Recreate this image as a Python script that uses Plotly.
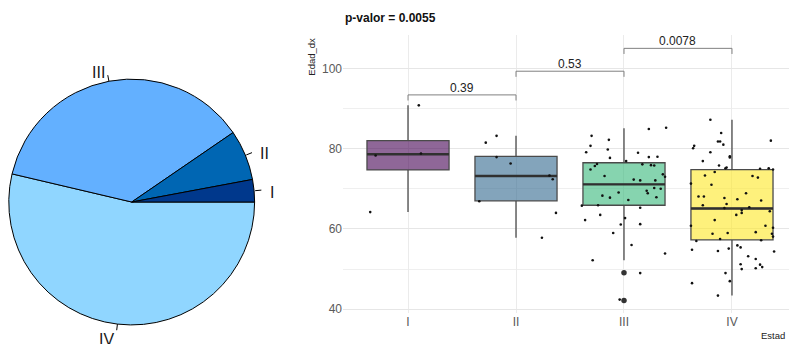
import math
import plotly.graph_objects as go

# ---------------- data ----------------
stages = ["I", "II", "III", "IV"]
pie_counts = [4, 9, 50, 73]
pie_colors = ["#00388C", "#0066B3", "#63B0FF", "#90D6FF"]

ages_I = [90.8, 78.3, 78.8, 64.2]
jit_I = [0.10, -0.30, 0.12, -0.35]

ages_II = [83.2, 81.5, 77.9, 76.3, 73.3, 72.4, 66.9, 64.0, 57.8]
jit_II = [-0.18, -0.28, -0.18, -0.05, 0.31, 0.34, -0.34, 0.37, 0.24]

ages_III = [84.9, 85.2, 83.2, 82.2, 80.7, 79.8, 79.1, 79.0, 77.7, 77.9, 78.0, 76.9,
            76.2, 75.7, 76.1, 75.9, 75.8, 74.8, 73.6, 73.0, 73.2, 72.3, 72.1, 72.1,
            70.2, 70.0, 69.5, 68.9, 69.1, 68.3, 67.8, 67.9, 67.2, 65.8, 65.9, 65.3,
            63.5, 62.7, 62.2, 61.1, 61.2, 59.0, 56.0, 53.9, 52.2, 49.0, 42.4]
jit_III = [0.23, 0.39, -0.30, -0.14, -0.31, -0.15, -0.35, 0.13, -0.13, 0.23, 0.31, 0.02,
           -0.25, -0.27, 0.17, 0.25, 0.28, -0.31, 0.36, 0.38, -0.18, 0.09, 0.15, 0.29,
           0.28, 0.34, 0.21, 0.22, -0.05, -0.20, -0.13, 0.30, 0.04, -0.39, -0.24, 0.15,
           -0.22, 0.01, -0.36, -0.03, 0.15, -0.10, 0.07, 0.38, -0.29, 0.15, -0.04]

ages_IV = [87.2, 83.9, 81.8, 81.8, 81.0, 82.0, 80.7, 80.1, 79.1, 78.1, 77.8, 76.9,
           75.8, 75.3, 75.1, 75.0, 75.1, 74.8, 74.2, 73.3, 73.2, 72.8, 71.0, 71.3,
           68.9, 68.1, 68.1, 67.7, 67.4, 67.1, 65.9, 66.2, 65.2, 65.4, 64.4, 64.7,
           64.0, 63.5, 62.2, 60.8, 60.8, 60.3, 58.8, 59.0, 59.2, 58.8, 58.1, 57.5,
           57.2, 57.0, 54.8, 54.5, 55.9, 55.4, 55.1, 54.4, 53.2, 52.5, 51.1, 50.5,
           51.2, 50.0, 50.2, 49.0, 47.0, 46.5, 43.4]
jit_IV = [-0.20, -0.10, -0.13, -0.11, -0.08, 0.36, -0.35, -0.36, -0.20, -0.02, -0.02, -0.27,
          -0.12, -0.05, -0.06, 0.26, 0.34, 0.38, -0.16, -0.25, 0.19, 0.24, -0.19, -0.38,
          0.13, -0.31, -0.26, -0.07, 0.05, 0.27, -0.27, -0.05, -0.07, 0.16, 0.35, 0.09,
          0.09, 0.04, -0.16, -0.38, 0.31, 0.38, -0.18, -0.04, 0.22, 0.37, 0.38, -0.11,
          0.27, -0.33, -0.37, -0.13, 0.05, 0.08, -0.03, 0.39, 0.15, 0.22, 0.26, 0.28,
          0.08, 0.09, 0.22, -0.06, -0.02, -0.37, -0.13]

box_q1 = [74.7, 67.0, 65.9, 57.3]
box_median = [78.6, 73.2, 71.1, 65.1]
box_q3 = [82.0, 78.1, 76.5, 74.8]
box_low = [64.2, 57.8, 52.2, 43.4]
box_high = [90.8, 83.2, 85.1, 87.2]
outliers_III = [49.1, 42.2]

box_fill = ["rgba(68,1,84,0.6)", "rgba(49,104,142,0.6)",
            "rgba(53,183,121,0.6)", "rgba(253,231,37,0.6)"]

comp_pairs = [(0, 1), (1, 2), (2, 3)]
comp_labels = ["0.39", "0.53", "0.0078"]
comp_y = [93.4, 99.3, 105.0]
tip_len = 1.4

title_text = "p-valor = 0.0055"
y_title = "Edad_dx"
x_title = "Estad"

FONT = "Liberation Sans, Arial, sans-serif"
W, H = 789, 344

fig = go.Figure()

# ---------------- pie ----------------
pie_cx, pie_cy, pie_r = 131.7, 203.8, 124.0
fig.add_trace(go.Pie(
    labels=stages[::-1], values=pie_counts[::-1], sort=False,
    direction="clockwise", rotation=90,
    marker=dict(colors=pie_colors[::-1], line=dict(color="black", width=1)),
    textinfo="none", hoverinfo="label+value",
    domain=dict(x=[(pie_cx - pie_r) / W, (pie_cx + pie_r) / W],
                y=[1 - (pie_cy + pie_r) / H, 1 - (pie_cy - pie_r) / H]),
    showlegend=False,
))

total = sum(pie_counts)
cum = 0
for lab, v in zip(stages, pie_counts):
    mid = 2 * math.pi * (cum + v / 2) / total
    cum += v
    c, s = math.cos(mid), math.sin(mid)
    x0, y0 = pie_cx + pie_r * c, pie_cy - pie_r * s
    x1, y1 = pie_cx + 1.05 * pie_r * c, pie_cy - 1.05 * pie_r * s
    fig.add_shape(type="line", xref="paper", yref="paper",
                  x0=x0 / W, y0=1 - y0 / H, x1=x1 / W, y1=1 - y1 / H,
                  line=dict(color="black", width=1))
    xt, yt = pie_cx + 1.1 * pie_r * c, pie_cy - 1.1 * pie_r * s
    fig.add_annotation(xref="paper", yref="paper", x=xt / W, y=1 - yt / H,
                       text=lab, showarrow=False, yshift=-3,
                       xanchor="right" if c < 0 else "left", yanchor="middle",
                       font=dict(family=FONT, size=16, color="#1a1a1a"))

# ---------------- boxplots ----------------
for i in range(4):
    fig.add_trace(go.Box(
        x=[i], q1=[box_q1[i]], median=[box_median[i]], q3=[box_q3[i]],
        lowerfence=[box_low[i]], upperfence=[box_high[i]],
        width=0.76, whiskerwidth=0, fillcolor=box_fill[i],
        line=dict(color="#4a4a4a", width=1.3),
        boxpoints=False, showlegend=False, xaxis="x", yaxis="y",
    ))

# thicker median lines
mx, my = [], []
for i in range(4):
    mx += [i - 0.38, i + 0.38, None]
    my += [box_median[i], box_median[i], None]
fig.add_trace(go.Scatter(x=mx, y=my, mode="lines",
                         line=dict(color="#303030", width=2.4),
                         hoverinfo="skip", showlegend=False))

# outliers
fig.add_trace(go.Scatter(x=[2] * len(outliers_III), y=outliers_III, mode="markers",
                         marker=dict(color="#333333", size=5.5),
                         showlegend=False))

# jittered points
groups = [(ages_I, jit_I), (ages_II, jit_II), (ages_III, jit_III), (ages_IV, jit_IV)]
for i, (ages, jit) in enumerate(groups):
    fig.add_trace(go.Scatter(x=[i + j for j in jit], y=ages, mode="markers",
                             marker=dict(color="#111111", size=2.6),
                             showlegend=False))

# comparison brackets
for (a, b), lab, yb in zip(comp_pairs, comp_labels, comp_y):
    fig.add_trace(go.Scatter(x=[a, a, b, b], y=[yb - tip_len, yb, yb, yb - tip_len],
                             mode="lines", line=dict(color="#808080", width=1),
                             hoverinfo="skip", showlegend=False))
    fig.add_annotation(x=(a + b) / 2, y=yb, xref="x", yref="y", text=lab,
                       showarrow=False, yanchor="bottom", yshift=-2,
                       font=dict(family=FONT, size=12, color="#222222"))

plot_left, plot_right, plot_top, plot_bottom = 343, 789, 35, 316
fig.update_layout(
    width=W, height=H, margin=dict(l=0, r=0, t=0, b=0),
    paper_bgcolor="white", plot_bgcolor="white",
    boxmode="overlay", showlegend=False,
    xaxis=dict(domain=[plot_left / W, plot_right / W], range=[-0.602, 3.528],
               tickmode="array", tickvals=[0, 1, 2, 3], ticktext=stages,
               showgrid=True, gridcolor="#EBEBEB", gridwidth=1,
               zeroline=False, showline=False, ticks="",
               tickfont=dict(family=FONT, size=12, color="#5a5a5a")),
    yaxis=dict(domain=[1 - plot_bottom / H, 1 - plot_top / H], range=[39.0, 108.4],
               tickmode="linear", tick0=40, dtick=20,
               showgrid=True, gridcolor="#E6E6E6", gridwidth=1,
               minor=dict(dtick=10, tick0=40, showgrid=True, gridcolor="#EFEFEF", gridwidth=1),
               zeroline=False, showline=False, ticks="",
               tickfont=dict(family=FONT, size=12, color="#5a5a5a")),
)

fig.add_annotation(xref="paper", yref="paper", x=plot_left / W, y=1 - 18 / H,
                   text="<b>" + title_text + "</b>", showarrow=False,
                   xanchor="left", yanchor="middle",
                   font=dict(family=FONT, size=12, color="#111111"))
fig.add_annotation(xref="paper", yref="paper", x=312 / W, y=1 - 36 / H,
                   text=y_title, showarrow=False, textangle=-90,
                   xanchor="center", yanchor="top",
                   font=dict(family=FONT, size=9.5, color="#222222"))
fig.add_annotation(xref="paper", yref="paper", x=787 / W, y=1 - 338 / H,
                   text=x_title, showarrow=False,
                   xanchor="right", yanchor="middle",
                   font=dict(family=FONT, size=9.5, color="#222222"))

fig.write_html("out.html", config={"displayModeBar": False},
               post_script="document.body.style.margin='0';document.body.style.overflow='hidden';")
